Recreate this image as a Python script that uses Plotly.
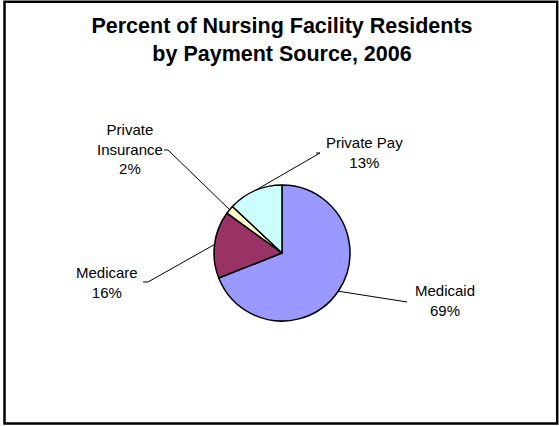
import math
import plotly.graph_objects as go

# ---- data ----
categories = ["Medicaid", "Medicare", "Private Insurance", "Private Pay"]
values = [69, 16, 2, 13]
label_texts = ["Medicaid<br>69%", "Medicare<br>16%", "Private<br>Insurance<br>2%", "Private Pay<br>13%"]
colors = ["#9999FF", "#993366", "#FFFFCC", "#CCFFFF"]
title_text = "<b>Percent of Nursing Facility Residents<br>by Payment Source, 2006</b>"

# ---- layout (pixels) ----
W, H = 559, 426
CX, CY, R = 282, 253, 68
# label centre positions and leader-line end points (label side)
label_pos = [(445, 300), (107, 282), (130, 149), (365, 153)]
leader_ends = [[(407, 302)], [(143, 282), (148, 282)], [(164, 150), (168, 150)], [(316, 153), (320, 153)]]


def px(x):
    return x / W


def py(y):
    return 1 - y / H


fig = go.Figure()
fig.add_trace(go.Pie(
    labels=categories,
    values=values,
    sort=False,
    direction="clockwise",
    rotation=0,
    textinfo="none",
    hoverinfo="label+percent",
    marker=dict(colors=colors, line=dict(color="black", width=1.5)),
    domain=dict(x=[px(CX - R), px(CX + R)], y=[py(CY + R), py(CY - R)]),
    showlegend=False,
))

shapes = []
annotations = []
total = sum(values)
cum = 0
for i, v in enumerate(values):
    mid = 2 * math.pi * (cum + v / 2) / total
    cum += v
    ax = CX + R * math.sin(mid)
    ay = CY - R * math.cos(mid)
    pts = leader_ends[i] + [(ax, ay)]
    path = "M " + " L ".join(f"{px(x):.5f},{py(y):.5f}" for x, y in pts)
    shapes.append(dict(type="path", xref="paper", yref="paper", path=path,
                       line=dict(color="black", width=1)))
    lx, ly = label_pos[i]
    annotations.append(dict(x=px(lx), y=py(ly), xref="paper", yref="paper",
                            text=label_texts[i], showarrow=False,
                            xanchor="center", yanchor="middle", align="center",
                            font=dict(family="Liberation Sans, Arial, sans-serif", size=15, color="black")))

# outer border
shapes.append(dict(type="rect", xref="paper", yref="paper",
                   x0=px(4.5), x1=px(557.2), y0=py(423.6), y1=py(1.8),
                   line=dict(color="black", width=2.5), fillcolor="rgba(0,0,0,0)"))

fig.update_layout(
    width=W, height=H, autosize=False,
    margin=dict(l=0, r=0, t=0, b=0),
    paper_bgcolor="white", plot_bgcolor="white",
    title=dict(text=title_text, x=px(282), xanchor="center",
               y=py(33), yanchor="middle", yref="container",
               font=dict(family="Liberation Sans, Arial, sans-serif", size=21.5, color="black")),
    shapes=shapes,
    annotations=annotations,
)

fig.write_html("out.html")
